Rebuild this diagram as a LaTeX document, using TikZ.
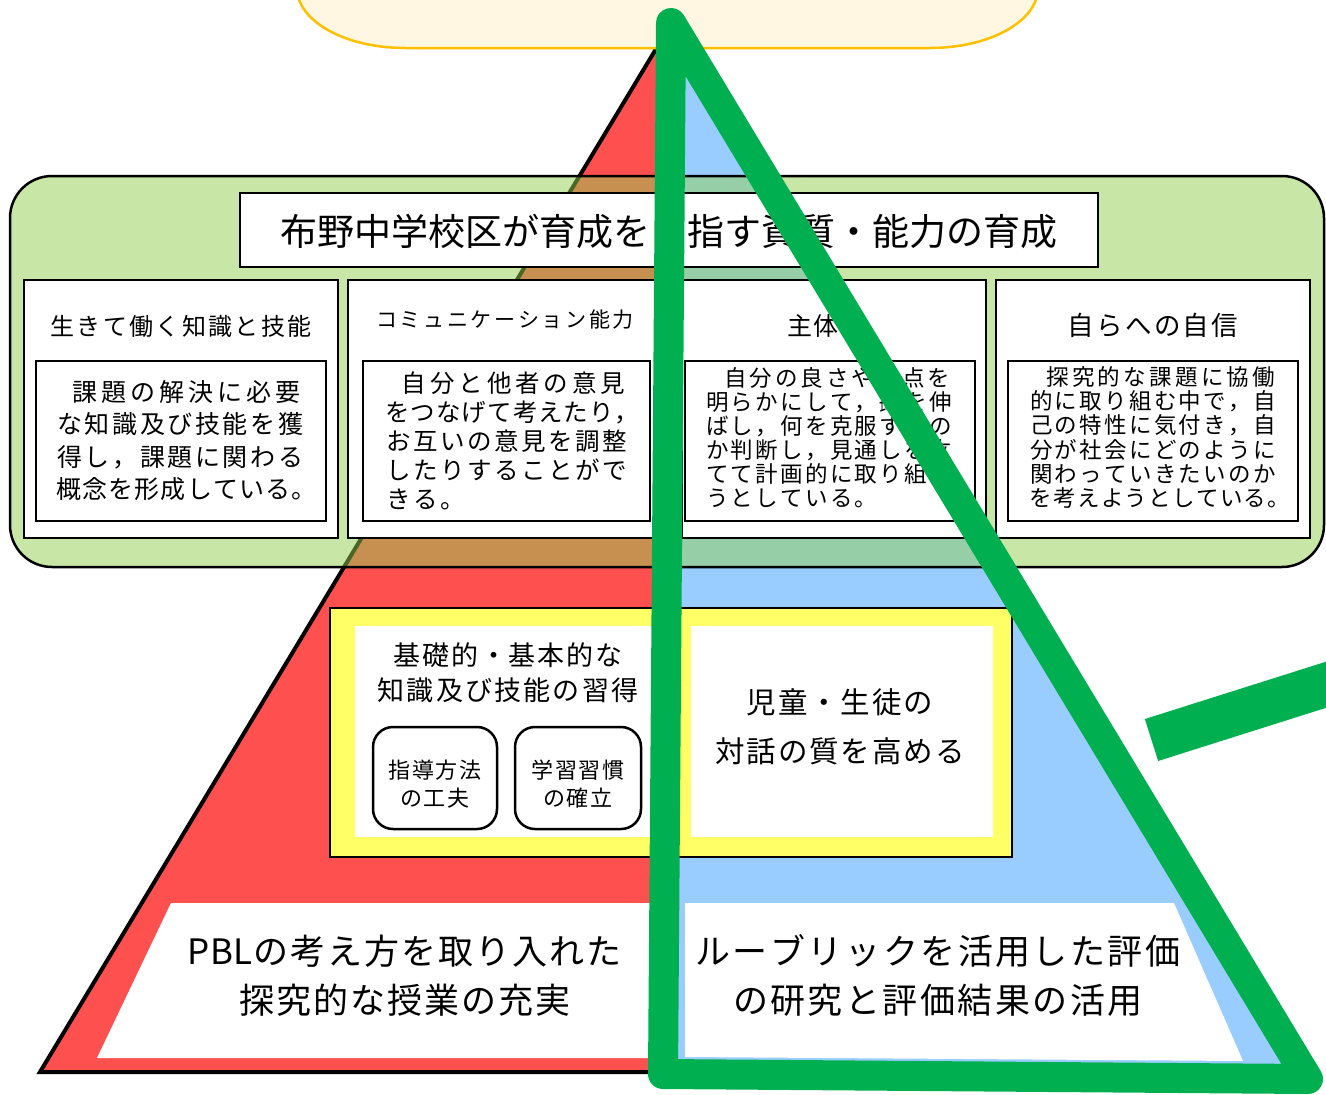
\documentclass[tikz,border=0pt]{standalone}
\usepackage{fontspec}
\newfontfamily\jp{Noto Sans CJK JP}
\definecolor{pred}{HTML}{FF5050}
\definecolor{pblue}{HTML}{99CCFF}
\definecolor{gfill}{HTML}{92D050}
\definecolor{gmark}{HTML}{00B050}
\definecolor{yel}{HTML}{FFFF66}
\definecolor{topfill}{HTML}{FFF7E1}
\definecolor{topline}{HTML}{FFC000}
\makeatletter
\newcommand\jl[2]{\def\jl@p{#1}\jl@loop#2\jl@end}
\def\jl@end{\jl@end}
\def\jl@loop#1{\ifx#1\jl@end\else\makebox[\jl@p]{#1}\expandafter\jl@loop\fi}
\makeatother
\newcommand\lead[1]{\makebox[#1][l]{　}}
\tikzset{
  obox/.style={draw=black, line width=2.5pt, fill=white},
  ibox/.style={draw=black, line width=1.8pt, fill=white},
  rbox/.style={draw=black, line width=2.5pt, fill=white, rounded corners=20pt},
  ybox/.style={draw=black, line width=2.5pt, fill=yel},
  txt/.style={inner sep=0pt, outer sep=0pt, text=black},
  marker/.style={draw=gmark, line join=round, line cap=round},
}
\begin{document}
\begin{tikzpicture}[x=1pt,y=-1pt]
\useasboundingbox (0,0) rectangle (1326,1095);
\clip (0,0) rectangle (1326,1095);
\fill[white] (0,0) rectangle (1326,1095);

% pyramid
\fill[pred] (665,34) -- (40,1072) -- (665,1072) -- cycle;
\fill[pblue] (665,34) -- (1290,1072) -- (665,1072) -- cycle;
\draw[line width=4pt, line join=miter] (665,34) -- (40,1072) -- (665,1072);

% top rounded box
\draw[draw=topline, fill=topfill, line width=2.5pt]
  (297,-100) -- (297,-12) .. controls (297,21) and (345,48) .. (405,48)
  -- (930,48) .. controls (990,48) and (1038,21) .. (1038,-12) -- (1038,-100) -- cycle;

% green band
\draw[draw=black, fill=gfill, fill opacity=0.5, line width=2.5pt, rounded corners=42pt]
  (10,176) rectangle (1324,567);

% title
\draw[obox] (240,193) rectangle (1098,267);
\node[txt, font=\jp\fontsize{37}{40}\selectfont] (title) at (669,231)
  {\jl{37pt}{布野中学校区が育成を目指す資質・能力の育成}};

% four boxes
\draw[obox] (24,280) rectangle (338,538);
\draw[obox] (348,280) rectangle (662,538);
\draw[obox] (682,280) rectangle (986,538);
\draw[obox] (996,280) rectangle (1310,538);
\draw[ibox] (36,361) rectangle (326,521);
\draw[ibox] (363,361) rectangle (650,521);
\draw[ibox] (685,361) rectangle (975,521);
\draw[ibox] (1008,361) rectangle (1298,521);

\node[txt, font=\jp\fontsize{24}{28}\selectfont] (h1) at (181,326)
  {\jl{26.3pt}{生きて働く知識と技能}};
\node[txt, font=\jp\fontsize{21}{28}\selectfont] (h2) at (505,320)
  {\jl{23.7pt}{コミュニケーション能力}};
\node[txt, font=\jp\fontsize{25}{28}\selectfont] (h3) at (826,326)
  {\jl{26pt}{主体性}};
\node[txt, font=\jp\fontsize{26.5}{28}\selectfont] (h4) at (1153,325)
  {\jl{28.8pt}{自らへの自信}};

\node[txt, anchor=west, align=left, font=\jp\fontsize{25}{32.4}\selectfont] (b1) at (56,440.5)
  {\lead{15pt}\jl{29pt}{課題の解決に必要}\\
   \jl{27.6pt}{な知識及び技能を獲}\\
   \jl{27.6pt}{得し，課題に関わる}\\
   \jl{26.1pt}{概念を形成している。}};
\node[txt, anchor=west, align=left, font=\jp\fontsize{24.5}{29}\selectfont] (b2) at (385,441)
  {\lead{15pt}\jl{28.4pt}{自分と他者の意見}\\
   \jl{25.5pt}{をつなげて考えたり，}\\
   \jl{27pt}{お互いの意見を調整}\\
   \jl{27pt}{したりすることがで}\\
   \jl{27pt}{きる。}};
\node[txt, anchor=west, align=left, font=\jp\fontsize{22.5}{24}\selectfont] (b3) at (705,438)
  {\lead{18pt}\jl{25.4pt}{自分の良さや弱点を}\\
   \jl{24.8pt}{明らかにして，}\makebox[24.8pt]{\scalebox{0.5}[1]{長所}}\jl{24.8pt}{を伸}\\
   \jl{24.8pt}{ばし，何を克服するの}\\
   \jl{24.8pt}{か判断し，見通しを立}\\
   \jl{24.8pt}{てて計画的に取り組も}\\
   \jl{24.8pt}{うとしている。}};
\node[txt, anchor=west, align=left, font=\jp\fontsize{22.5}{24.2}\selectfont] (b4) at (1029,437.5)
  {\lead{15.6pt}\jl{25.8pt}{探究的な課題に協働}\\
   \jl{24.8pt}{的に取り組む中で，自}\\
   \jl{24.8pt}{己の特性に気付き，自}\\
   \jl{24.8pt}{分が社会にどのように}\\
   \jl{24.8pt}{関わっていきたいのか}\\
   \jl{23.8pt}{を考えようとしている。}};

% middle yellow boxes
\draw[ybox] (330,608) rectangle (666,857);
\draw[ybox] (666,608) rectangle (1012,857);
\fill[white] (355,626) rectangle (666,837);
\fill[white] (691,626) rectangle (993,837);
\draw[rbox] (373,727) rectangle (497,829);
\draw[rbox] (515,727) rectangle (641,829);

\node[txt, align=center, font=\jp\fontsize{27}{35}\selectfont] (m1) at (508,672.5)
  {\jl{28.8pt}{基礎的・基本的な}\\\jl{29.2pt}{知識及び技能の習得}};
\node[txt, align=center, font=\jp\fontsize{22}{28}\selectfont] (m2) at (435,784)
  {\jl{23.8pt}{指導方法}\\\jl{23.8pt}{の工夫}};
\node[txt, align=center, font=\jp\fontsize{22}{28}\selectfont] (m3) at (578,784)
  {\jl{23.8pt}{学習習慣}\\\jl{23.8pt}{の確立}};
\node[txt, align=center, font=\jp\fontsize{29.5}{49}\selectfont] (m4) at (840,727)
  {\jl{31.4pt}{児童・生徒の}\\\jl{31.4pt}{対話の質を高める}};

% bottom white panels
\fill[white] (171,903) -- (660,903) -- (660,1058) -- (97,1058) -- cycle;
\fill[white] (685,903) -- (1174,903) -- (1243,1061) -- (685,1057) -- cycle;
\node[txt, align=center, font=\jp\fontsize{35}{49}\selectfont] (p1) at (405,975.5)
  {PBL\jl{37pt}{の考え方を取り入れた}\\\jl{37pt}{探究的な授業の充実}};
\node[txt, align=center, font=\jp\fontsize{35}{49}\selectfont] (p2) at (938,975.5)
  {\jl{37.5pt}{ルーブリックを活用した評価}\\\jl{37.5pt}{の研究と評価結果の活用}};

% green marker strokes
\draw[marker, line width=30pt] (671,23) -- (663,1074) -- (1308,1079) -- cycle;
\draw[draw=gmark, line width=44pt] (1151.5,740) -- (1360,674);
\end{tikzpicture}
\end{document}
